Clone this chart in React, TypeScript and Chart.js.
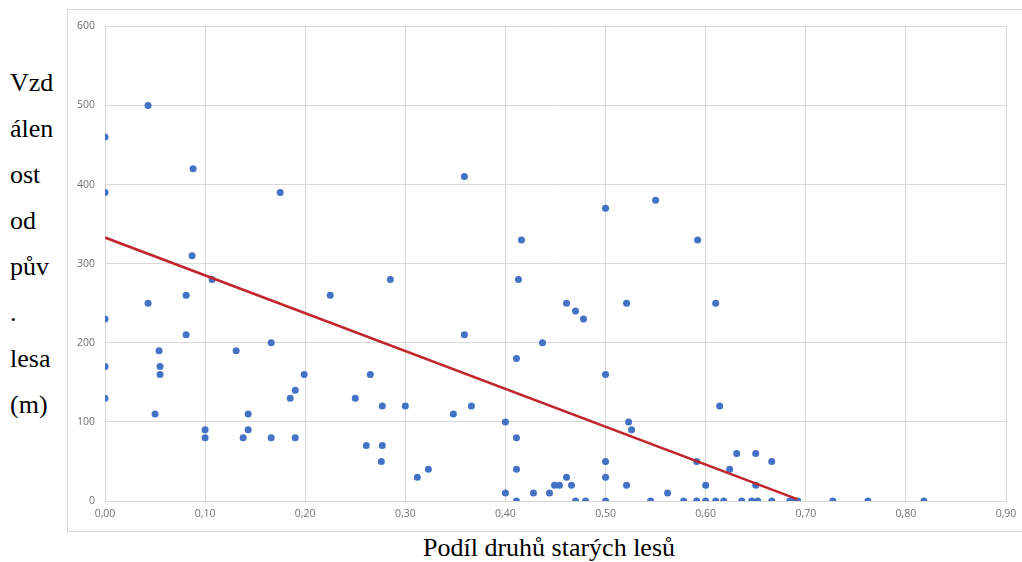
import React, { useEffect, useRef } from "react";
import { Chart, registerables } from "chart.js";

Chart.register(...registerables);

// Share of old-forest species (x) vs. distance from the original forest (y, m)
const xValues = [
  0, 0.043, 0.088, 0, 0.175, 0.087, 0.107, 0.043, 0.081, 0.225,
  0, 0.081, 0.166, 0.054, 0.131, 0, 0.055, 0.055, 0.199, 0.265,
  0.19, 0, 0.185, 0.25, 0.277, 0.05, 0.143, 0.1, 0.143, 0.1,
  0.138, 0.166, 0.19, 0.261, 0.277, 0.276, 0.285, 0.413, 0.461, 0.521,
  0.61, 0.47, 0.478, 0.359, 0.437, 0.411, 0.5, 0.3, 0.366, 0.614,
  0.348, 0.4, 0.523, 0.526, 0.411, 0.5, 0.591, 0.323, 0.411, 0.312,
  0.461, 0.5, 0.449, 0.454, 0.466, 0.521, 0.6, 0.4, 0.428, 0.444,
  0.562, 0.411, 0.47, 0.48, 0.5, 0.545, 0.578, 0.591, 0.6, 0.61,
  0.359, 0.416, 0.5, 0.55, 0.592, 0.631, 0.65, 0.666, 0.624, 0.65,
  0.618, 0.636, 0.646, 0.652, 0.666, 0.684, 0.687, 0.692, 0.727, 0.762,
  0.818,
];
const yValues = [
  460, 500, 420, 390, 390, 310, 280, 250, 260, 260,
  230, 210, 200, 190, 190, 170, 170, 160, 160, 160,
  140, 130, 130, 130, 120, 110, 110, 90, 90, 80,
  80, 80, 80, 70, 70, 50, 280, 280, 250, 250,
  250, 240, 230, 210, 200, 180, 160, 120, 120, 120,
  110, 100, 100, 90, 80, 50, 50, 40, 40, 30,
  30, 30, 20, 20, 20, 20, 20, 10, 10, 10,
  10, 0, 0, 0, 0, 0, 0, 0, 0, 0,
  410, 330, 370, 380, 330, 60, 60, 50, 40, 20,
  0, 0, 0, 0, 0, 0, 0, 0, 0, 0,
  0,
];

// Linear trendline endpoints
const trendX = [0, 0.692];
const trendY = [333, 2];

const xTickValues = [0, 0.1, 0.2, 0.3, 0.4, 0.5, 0.6, 0.7, 0.8, 0.9];
const xTickLabels = ["0,00", "0,10", "0,20", "0,30", "0,40", "0,50", "0,60", "0,70", "0,80", "0,90"];
const yTickValues = [0, 100, 200, 300, 400, 500, 600];
const yTickLabels = ["0", "100", "200", "300", "400", "500", "600"];

const xTitle = "Podíl druhů starých lesů";
const yTitleLines = ["Vzd", "álen", "ost", "od", "pův", ".", "lesa", "(m)"];

export default function App() {
  const ref = useRef<HTMLCanvasElement>(null);

  useEffect(() => {
    if (!ref.current) return;
    const tickFont = { family: "'Open Sans', sans-serif", size: 10.5 };
    const chart = new Chart(ref.current, {
      type: "scatter",
      data: {
        datasets: [
          {
            data: trendX.map((x, i) => ({ x, y: trendY[i] })),
            showLine: true,
            borderColor: "#C0262D",
            backgroundColor: "#C0262D",
            borderWidth: 2.5,
            pointRadius: 0,
          },
          {
            data: xValues.map((x, i) => ({ x, y: yValues[i] })),
            backgroundColor: "#4472C4",
            borderColor: "#4472C4",
            borderWidth: 0,
            pointRadius: 3.5,
          },
        ],
      },
      options: {
        animation: false,
        responsive: false,
        devicePixelRatio: 1,
        plugins: { legend: { display: false }, tooltip: { enabled: false } },
        layout: { padding: { top: 13, right: 22, left: 0, bottom: 0 } },
        scales: {
          x: {
            type: "linear",
            min: 0,
            max: 0.9,
            afterBuildTicks: (s: any) => {
              s.ticks = xTickValues.map((v) => ({ value: v }));
            },
            afterFit: (s: any) => {
              s.height = 30;
            },
            grid: { color: "#d9d9d9", drawTicks: false, lineWidth: 1 },
            border: { color: "#d9d9d9" },
            ticks: {
              padding: 7,
              color: "#707070",
              font: tickFont,
              maxRotation: 0,
              autoSkip: false,
              callback: (_v: any, i: number) => xTickLabels[i],
            },
          },
          y: {
            type: "linear",
            min: 0,
            max: 600,
            afterBuildTicks: (s: any) => {
              s.ticks = yTickValues.map((v) => ({ value: v }));
            },
            afterFit: (s: any) => {
              s.width = 37;
            },
            grid: { color: "#d9d9d9", drawTicks: false, lineWidth: 1 },
            border: { display: false },
            ticks: {
              padding: 10,
              color: "#707070",
              font: tickFont,
              autoSkip: false,
              callback: (_v: any, i: number) => yTickLabels[i],
            },
          },
        },
      },
    });
    return () => chart.destroy();
  }, []);

  const serif = "'Liberation Serif', 'Times New Roman', serif";

  return (
    <div
      style={{
        position: "fixed",
        left: 0,
        top: 0,
        width: 1022,
        height: 562,
        background: "#ffffff",
        overflow: "hidden",
      }}
    >
      <div
        style={{
          position: "absolute",
          left: 67,
          top: 9,
          width: 960,
          height: 521,
          border: "1px solid #d9d9d9",
        }}
      >
        <canvas ref={ref} width={960} height={521} style={{ display: "block" }} />
      </div>
      <div
        style={{
          position: "absolute",
          left: 10,
          top: 60,
          fontFamily: serif,
          fontSize: 26,
          lineHeight: "46px",
          color: "#000",
          whiteSpace: "nowrap",
        }}
      >
        {yTitleLines.map((l, i) => (
          <div key={i}>{l}</div>
        ))}
      </div>
      <div
        style={{
          position: "absolute",
          left: 549,
          top: 533,
          transform: "translateX(-50%)",
          fontFamily: serif,
          fontSize: 26,
          lineHeight: "30px",
          color: "#000",
          whiteSpace: "nowrap",
        }}
      >
        {xTitle}
      </div>
    </div>
  );
}
